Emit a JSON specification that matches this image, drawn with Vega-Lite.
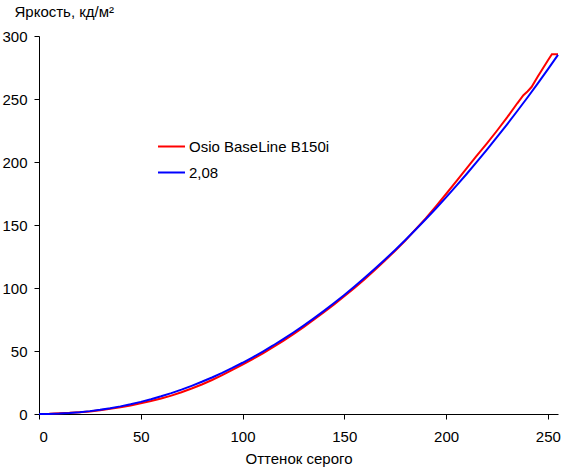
{
  "$schema": "https://vega.github.io/schema/vega-lite/v6.json",
  "width": 519,
  "height": 378,
  "autosize": {"type": "none"},
  "padding": {"left": 39, "top": 36, "right": 3, "bottom": 55},
  "background": "white",
  "data": {
    "values": [
      {"s": "Osio BaseLine B150i", "x": 0, "y": 0},
      {"s": "Osio BaseLine B150i", "x": 5, "y": 0.2},
      {"s": "Osio BaseLine B150i", "x": 10, "y": 0.6},
      {"s": "Osio BaseLine B150i", "x": 15, "y": 0.9},
      {"s": "Osio BaseLine B150i", "x": 20, "y": 1.4},
      {"s": "Osio BaseLine B150i", "x": 25, "y": 2.0},
      {"s": "Osio BaseLine B150i", "x": 30, "y": 3.0},
      {"s": "Osio BaseLine B150i", "x": 35, "y": 4.2},
      {"s": "Osio BaseLine B150i", "x": 40, "y": 5.4},
      {"s": "Osio BaseLine B150i", "x": 45, "y": 6.8},
      {"s": "Osio BaseLine B150i", "x": 50, "y": 8.5},
      {"s": "Osio BaseLine B150i", "x": 55, "y": 10.3},
      {"s": "Osio BaseLine B150i", "x": 60, "y": 12.3},
      {"s": "Osio BaseLine B150i", "x": 65, "y": 14.6},
      {"s": "Osio BaseLine B150i", "x": 70, "y": 17.3},
      {"s": "Osio BaseLine B150i", "x": 75, "y": 20.2},
      {"s": "Osio BaseLine B150i", "x": 80, "y": 23.4},
      {"s": "Osio BaseLine B150i", "x": 85, "y": 27.0},
      {"s": "Osio BaseLine B150i", "x": 90, "y": 30.9},
      {"s": "Osio BaseLine B150i", "x": 95, "y": 35.0},
      {"s": "Osio BaseLine B150i", "x": 100, "y": 39.2},
      {"s": "Osio BaseLine B150i", "x": 105, "y": 43.6},
      {"s": "Osio BaseLine B150i", "x": 110, "y": 48.2},
      {"s": "Osio BaseLine B150i", "x": 115, "y": 53.0},
      {"s": "Osio BaseLine B150i", "x": 120, "y": 58.1},
      {"s": "Osio BaseLine B150i", "x": 125, "y": 63.4},
      {"s": "Osio BaseLine B150i", "x": 130, "y": 69.0},
      {"s": "Osio BaseLine B150i", "x": 135, "y": 74.8},
      {"s": "Osio BaseLine B150i", "x": 140, "y": 80.8},
      {"s": "Osio BaseLine B150i", "x": 145, "y": 87.0},
      {"s": "Osio BaseLine B150i", "x": 150, "y": 93.4},
      {"s": "Osio BaseLine B150i", "x": 155, "y": 100.1},
      {"s": "Osio BaseLine B150i", "x": 160, "y": 107.0},
      {"s": "Osio BaseLine B150i", "x": 165, "y": 114.3},
      {"s": "Osio BaseLine B150i", "x": 170, "y": 121.8},
      {"s": "Osio BaseLine B150i", "x": 175, "y": 129.6},
      {"s": "Osio BaseLine B150i", "x": 180, "y": 137.6},
      {"s": "Osio BaseLine B150i", "x": 185, "y": 146.5},
      {"s": "Osio BaseLine B150i", "x": 190, "y": 155.3},
      {"s": "Osio BaseLine B150i", "x": 195, "y": 164.8},
      {"s": "Osio BaseLine B150i", "x": 200, "y": 174.6},
      {"s": "Osio BaseLine B150i", "x": 205, "y": 184.7},
      {"s": "Osio BaseLine B150i", "x": 210, "y": 194.7},
      {"s": "Osio BaseLine B150i", "x": 215, "y": 204.8},
      {"s": "Osio BaseLine B150i", "x": 220, "y": 214.6},
      {"s": "Osio BaseLine B150i", "x": 225, "y": 224.8},
      {"s": "Osio BaseLine B150i", "x": 230, "y": 235.4},
      {"s": "Osio BaseLine B150i", "x": 235, "y": 246.6},
      {"s": "Osio BaseLine B150i", "x": 238, "y": 253.0},
      {"s": "Osio BaseLine B150i", "x": 240, "y": 256.0},
      {"s": "Osio BaseLine B150i", "x": 242, "y": 259.5},
      {"s": "Osio BaseLine B150i", "x": 245, "y": 267.6},
      {"s": "Osio BaseLine B150i", "x": 250, "y": 280.6},
      {"s": "Osio BaseLine B150i", "x": 252, "y": 285.5},
      {"s": "Osio BaseLine B150i", "x": 255, "y": 285.5},
      {"s": "2,08", "x": 0, "y": 0},
      {"s": "2,08", "x": 5, "y": 0.08},
      {"s": "2,08", "x": 10, "y": 0.34},
      {"s": "2,08", "x": 15, "y": 0.79},
      {"s": "2,08", "x": 20, "y": 1.43},
      {"s": "2,08", "x": 25, "y": 2.28},
      {"s": "2,08", "x": 30, "y": 3.32},
      {"s": "2,08", "x": 35, "y": 4.58},
      {"s": "2,08", "x": 40, "y": 6.05},
      {"s": "2,08", "x": 45, "y": 7.72},
      {"s": "2,08", "x": 50, "y": 9.62},
      {"s": "2,08", "x": 55, "y": 11.72},
      {"s": "2,08", "x": 60, "y": 14.05},
      {"s": "2,08", "x": 65, "y": 16.59},
      {"s": "2,08", "x": 70, "y": 19.36},
      {"s": "2,08", "x": 75, "y": 22.36},
      {"s": "2,08", "x": 80, "y": 25.56},
      {"s": "2,08", "x": 85, "y": 28.99},
      {"s": "2,08", "x": 90, "y": 32.66},
      {"s": "2,08", "x": 95, "y": 36.55},
      {"s": "2,08", "x": 100, "y": 40.67},
      {"s": "2,08", "x": 105, "y": 45.02},
      {"s": "2,08", "x": 110, "y": 49.59},
      {"s": "2,08", "x": 115, "y": 54.38},
      {"s": "2,08", "x": 120, "y": 59.43},
      {"s": "2,08", "x": 125, "y": 64.68},
      {"s": "2,08", "x": 130, "y": 70.17},
      {"s": "2,08", "x": 135, "y": 75.91},
      {"s": "2,08", "x": 140, "y": 81.86},
      {"s": "2,08", "x": 145, "y": 88.07},
      {"s": "2,08", "x": 150, "y": 94.50},
      {"s": "2,08", "x": 155, "y": 101.18},
      {"s": "2,08", "x": 160, "y": 108.10},
      {"s": "2,08", "x": 165, "y": 115.22},
      {"s": "2,08", "x": 170, "y": 122.61},
      {"s": "2,08", "x": 175, "y": 130.23},
      {"s": "2,08", "x": 180, "y": 138.10},
      {"s": "2,08", "x": 185, "y": 146.20},
      {"s": "2,08", "x": 190, "y": 154.52},
      {"s": "2,08", "x": 195, "y": 163.10},
      {"s": "2,08", "x": 200, "y": 171.94},
      {"s": "2,08", "x": 205, "y": 180.99},
      {"s": "2,08", "x": 210, "y": 190.30},
      {"s": "2,08", "x": 215, "y": 199.82},
      {"s": "2,08", "x": 220, "y": 209.62},
      {"s": "2,08", "x": 225, "y": 219.66},
      {"s": "2,08", "x": 230, "y": 229.93},
      {"s": "2,08", "x": 235, "y": 240.47},
      {"s": "2,08", "x": 240, "y": 251.18},
      {"s": "2,08", "x": 245, "y": 262.25},
      {"s": "2,08", "x": 250, "y": 273.50},
      {"s": "2,08", "x": 255, "y": 285.0}
    ]
  },
  "encoding": {
    "x": {
      "field": "x",
      "type": "quantitative",
      "scale": {"domain": [0, 255], "nice": false, "zero": false},
      "axis": {
        "title": "Оттенок серого",
        "values": [0, 50, 100, 150, 200, 250],
        "grid": false,
        "labelPadding": 10,
        "titlePadding": 7
      }
    },
    "y": {
      "field": "y",
      "type": "quantitative",
      "scale": {"domain": [0, 300], "nice": false},
      "axis": {
        "title": "Яркость, кд/м²",
        "values": [0, 50, 100, 150, 200, 250, 300],
        "grid": false,
        "labelPadding": 7,
        "titleAngle": 0,
        "titleAlign": "left",
        "titleBaseline": "alphabetic",
        "titleX": -25,
        "titleY": -20
      }
    },
    "color": {
      "field": "s",
      "type": "nominal",
      "scale": {"domain": ["Osio BaseLine B150i", "2,08"], "range": ["#ff0000", "#0000ff"]},
      "legend": {
        "title": null,
        "orient": "none",
        "legendX": 118,
        "legendY": 96,
        "symbolType": "stroke",
        "symbolSize": 729,
        "symbolStrokeWidth": 2,
        "rowPadding": 3,
        "labelOffset": 3
      }
    }
  },
  "layer": [
    {
      "transform": [{"filter": "datum.s == 'Osio BaseLine B150i'"}],
      "mark": {"type": "line", "strokeWidth": 2}
    },
    {
      "transform": [{"filter": "datum.s == '2,08'"}],
      "mark": {"type": "line", "strokeWidth": 2}
    }
  ],
  "config": {
    "view": {"stroke": null},
    "font": "Liberation Sans",
    "axis": {
      "domainColor": "#000000",
      "tickColor": "#000000",
      "labelColor": "#000000",
      "titleColor": "#000000",
      "labelFontSize": 15,
      "titleFontSize": 15,
      "titleFontWeight": "normal",
      "tickSize": 5,
      "labelFont": "Liberation Sans",
      "titleFont": "Liberation Sans"
    },
    "legend": {
      "labelFontSize": 15,
      "labelColor": "#000000",
      "labelFont": "Liberation Sans"
    }
  }
}
